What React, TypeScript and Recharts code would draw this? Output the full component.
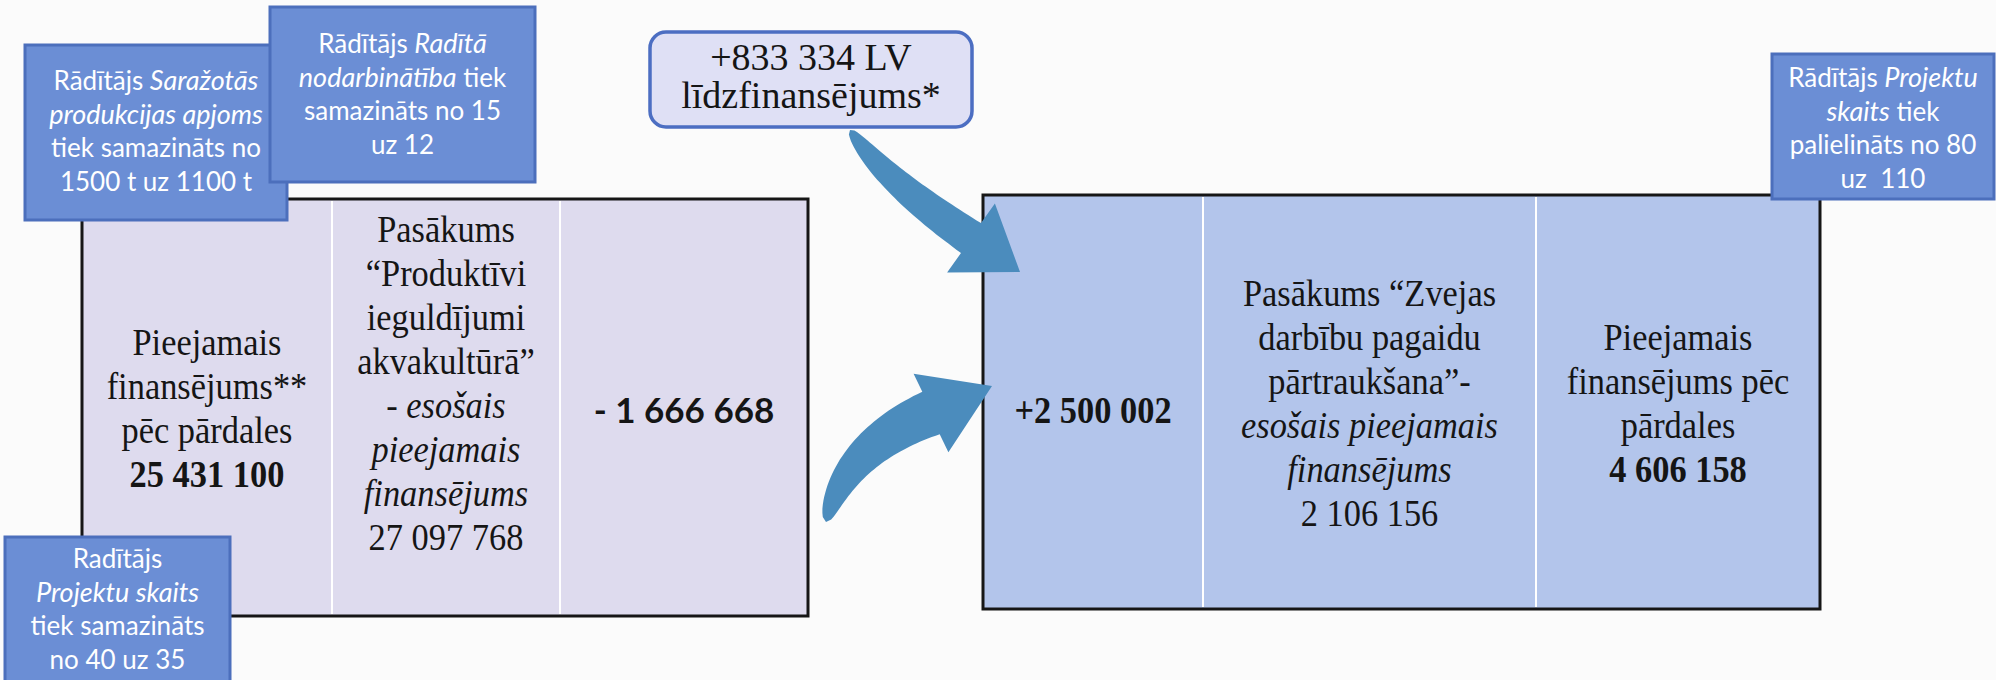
import React from 'react'
import { ComposedChart, XAxis, YAxis, ReferenceArea } from 'recharts'

type Seg = { t: string; i?: boolean; b?: boolean }
type Line = Seg[]

const W = 1996
const H = 680

// amounts, LVL
const leftAvailable = 25431100
const aquacultureCurrent = 27097768
const movedOut = -1666668
const cofinancing = 833334
const movedIn = 2500002
const fishingCurrent = 2106156
const rightAvailable = 4606158

const fmt = (n: number) => Math.abs(n).toString().replace(/\B(?=(\d{3})+(?!\d))/g, ' ')

// indicator notes
const indOutput: Line[] = [
  [{ t: 'Rādītājs ' }, { t: 'Saražotās', i: true }],
  [{ t: 'produkcijas apjoms', i: true }],
  [{ t: 'tiek samazināts no' }],
  [{ t: '1500 t uz 1100 t' }],
]
const indJobs: Line[] = [
  [{ t: 'Rādītājs ' }, { t: 'Radītā', i: true }],
  [{ t: 'nodarbinātība', i: true }, { t: ' tiek' }],
  [{ t: 'samazināts no 15' }],
  [{ t: 'uz 12' }],
]
const indProjectsDown: Line[] = [
  [{ t: 'Radītājs' }],
  [{ t: 'Projektu skaits', i: true }],
  [{ t: 'tiek samazināts' }],
  [{ t: 'no 40 uz 35' }],
]
const indProjectsUp: Line[] = [
  [{ t: 'Rādītājs ' }, { t: 'Projektu', i: true }],
  [{ t: 'skaits', i: true }, { t: ' tiek' }],
  [{ t: 'palielināts no 80' }],
  [{ t: 'uz\u00a0 110' }],
]

// table cells
const leftCells: Line[][] = [
  [[{ t: 'Pieejamais' }], [{ t: 'finansējums**' }], [{ t: 'pēc pārdales' }], [{ t: fmt(leftAvailable), b: true }]],
  [
    [{ t: 'Pasākums' }],
    [{ t: '“Produktīvi' }],
    [{ t: 'ieguldījumi' }],
    [{ t: 'akvakultūrā”' }],
    [{ t: '- ' }, { t: 'esošais', i: true }],
    [{ t: 'pieejamais', i: true }],
    [{ t: 'finansējums', i: true }],
    [{ t: fmt(aquacultureCurrent) }],
  ],
  [[{ t: '- ' + fmt(movedOut), b: true }]],
]
const rightCells: Line[][] = [
  [[{ t: '+' + fmt(movedIn), b: true }]],
  [
    [{ t: 'Pasākums “Zvejas' }],
    [{ t: 'darbību pagaidu' }],
    [{ t: 'pārtraukšana”-' }],
    [{ t: 'esošais pieejamais', i: true }],
    [{ t: 'finansējums', i: true }],
    [{ t: fmt(fishingCurrent) }],
  ],
  [[{ t: 'Pieejamais' }], [{ t: 'finansējums pēc' }], [{ t: 'pārdales' }], [{ t: fmt(rightAvailable), b: true }]],
]
const bubbleLines: Line[] = [[{ t: '+' + fmt(cofinancing) + ' LV' }], [{ t: 'līdzfinansējums*' }]]

// layout
const SERIF = "'Liberation Serif', 'Times New Roman', serif"
const SANS = "Lato, 'Open Sans', sans-serif"
const BOX_FILL = '#6b8ed5'
const BOX_EDGE = '#4c6fbc'
const ARROW = '#4b8cbd'

type Box = { x1: number; x2: number; y1: number; y2: number }
const leftTable = { x1: 82, x2: 808, y1: 199, y2: 616, cols: [332, 560], first: [355, 242, 423], sans: [false, false, true] }
const rightTable = { x1: 983, x2: 1820, y1: 195, y2: 609, cols: [1203, 1536], first: [423, 306, 350], sans: [false, false, false] }
const notes = [
  { box: { x1: 25, x2: 287, y1: 45, y2: 220 }, first: 90, lines: indOutput },
  { box: { x1: 270, x2: 535, y1: 7, y2: 182 }, first: 53, lines: indJobs },
  { box: { x1: 5, x2: 230, y1: 537, y2: 700 }, first: 568, lines: indProjectsDown },
  { box: { x1: 1772, x2: 1994, y1: 54, y2: 199 }, first: 87, lines: indProjectsUp },
]
const bubble = { x1: 650, x2: 972, y1: 32, y2: 127, first: 70, step: 38 }

type Pt = [number, number]
const arrows = [
  { box: { x1: 840, x2: 1030, y1: 120, y2: 285 }, tail: [850, 130] as Pt, ctrl: [884, 180] as Pt, base: [971, 238] as Pt, tip: [1020, 272] as Pt, shaft: 36, head: 84 },
  { box: { x1: 815, x2: 1000, y1: 365, y2: 530 }, tail: [826, 522] as Pt, ctrl: [845, 448] as Pt, base: [931, 413] as Pt, tip: [992, 386] as Pt, shaft: 46, head: 86 },
]

function mapper(p: any, box: Box) {
  const kx = p.width / (box.x2 - box.x1)
  const ky = p.height / (box.y2 - box.y1)
  return {
    X: (v: number) => p.x + (v - box.x1) * kx,
    Y: (v: number) => p.y + (v - box.y1) * ky,
    ky,
  }
}

function Lines({ x, y, step, lines, size, family, fill = '#151515', sx = 1, italic }: any) {
  return (
    <text
      textAnchor="middle"
      fontFamily={family}
      fontSize={size}
      fill={fill}
      transform={sx !== 1 ? `translate(${x},0) scale(${sx},1) translate(${-x},0)` : undefined}
    >
      {lines.map((ln: Line, k: number) => (
        <tspan key={k} x={x} y={y + k * step}>
          {ln.map((s, j) => (
            <tspan
              key={j}
              fontStyle={s.i ? 'italic' : 'normal'}
              fontWeight={s.b ? 'bold' : 'normal'}
              {...(s.i && italic ? italic : {})}
            >
              {s.t}
            </tspan>
          ))}
        </tspan>
      ))}
    </text>
  )
}

const tableShape = (tb: typeof leftTable, fill: string, cells: Line[][]) => (p: any) => {
  const { X, Y, ky } = mapper(p, tb)
  const edges = [tb.x1, ...tb.cols, tb.x2]
  return (
    <g>
      <rect x={p.x} y={p.y} width={p.width} height={p.height} fill={fill} stroke="#161616" strokeWidth={3} />
      {tb.cols.map((c) => (
        <line key={c} x1={X(c)} x2={X(c)} y1={p.y + 2} y2={p.y + p.height - 2} stroke="#ffffff" strokeWidth={2} />
      ))}
      {cells.map((cell, i) => (
        <Lines
          key={i}
          x={X((edges[i] + edges[i + 1]) / 2)}
          y={Y(tb.first[i])}
          step={44 * ky}
          lines={cell}
          size={tb.sans[i] ? 35 : 37}
          sx={tb.sans[i] ? 1 : 0.93}
          family={tb.sans[i] ? SANS : SERIF}
        />
      ))}
    </g>
  )
}

const noteShape = (n: (typeof notes)[number]) => (p: any) => {
  const { X, Y, ky } = mapper(p, n.box)
  return (
    <g>
      <rect x={p.x} y={p.y} width={p.width} height={p.height} fill={BOX_FILL} stroke={BOX_EDGE} strokeWidth={3} />
      <Lines
        x={X((n.box.x1 + n.box.x2) / 2)}
        y={Y(n.first)}
        step={33.5 * ky}
        lines={n.lines}
        size={26}
        family={SANS}
        fill="#ffffff"
        italic={{ fontSize: 27 }}
      />
    </g>
  )
}

const bubbleShape = (p: any) => {
  const { X, Y, ky } = mapper(p, bubble)
  return (
    <g>
      <rect x={p.x} y={p.y} width={p.width} height={p.height} rx={16} fill="#dfe0f5" stroke="#4c6ec2" strokeWidth={3.5} />
      <Lines x={X((bubble.x1 + bubble.x2) / 2)} y={Y(bubble.first)} step={bubble.step * ky} lines={bubbleLines} size={38} family={SERIF} />
    </g>
  )
}

const arrowShape = (a: (typeof arrows)[number]) => (p: any) => {
  const { X, Y } = mapper(p, a.box)
  const N = 40
  const left: Pt[] = []
  const right: Pt[] = []
  for (let k = 0; k <= N; k++) {
    const t = k / N
    const u = 1 - t
    const bx = u * u * a.tail[0] + 2 * u * t * a.ctrl[0] + t * t * a.base[0]
    const by = u * u * a.tail[1] + 2 * u * t * a.ctrl[1] + t * t * a.base[1]
    const dx = 2 * u * (a.ctrl[0] - a.tail[0]) + 2 * t * (a.base[0] - a.ctrl[0])
    const dy = 2 * u * (a.ctrl[1] - a.tail[1]) + 2 * t * (a.base[1] - a.ctrl[1])
    const len = Math.hypot(dx, dy) || 1
    const nx = -dy / len
    const ny = dx / len
    const w = (a.shaft / 2) * Math.pow(t, 0.45)
    left.push([bx + nx * w, by + ny * w])
    right.push([bx - nx * w, by - ny * w])
  }
  const ddx = a.tip[0] - a.base[0]
  const ddy = a.tip[1] - a.base[1]
  const dl = Math.hypot(ddx, ddy)
  const hx = (-ddy / dl) * (a.head / 2)
  const hy = (ddx / dl) * (a.head / 2)
  const pts: Pt[] = [
    ...left,
    [a.base[0] + hx, a.base[1] + hy],
    a.tip,
    [a.base[0] - hx, a.base[1] - hy],
    ...right.reverse(),
  ]
  const d = pts.map(([x, y], i) => `${i ? 'L' : 'M'}${X(x).toFixed(1)},${Y(y).toFixed(1)}`).join(' ') + ' Z'
  return <path d={d} fill={ARROW} />
}

export default function App() {
  return (
    <div style={{ position: 'absolute', left: 0, top: 0, width: W, height: H, background: '#fbfbfb', overflow: 'hidden' }}>
      <ComposedChart width={W} height={H} margin={{ top: 0, right: 0, bottom: 0, left: 0 }}>
        <XAxis type="number" dataKey="x" domain={[0, W]} hide allowDataOverflow />
        <YAxis type="number" dataKey="y" domain={[0, H]} reversed hide allowDataOverflow />
        <ReferenceArea {...leftTable} ifOverflow="visible" shape={tableShape(leftTable, '#dedbee', leftCells)} />
        <ReferenceArea {...rightTable} ifOverflow="visible" shape={tableShape(rightTable, '#b3c5eb', rightCells)} />
        {arrows.map((a, i) => (
          <ReferenceArea key={'a' + i} {...a.box} ifOverflow="visible" shape={arrowShape(a)} />
        ))}
        <ReferenceArea {...bubble} ifOverflow="visible" shape={bubbleShape} />
        {notes.map((n, i) => (
          <ReferenceArea key={'n' + i} {...n.box} ifOverflow="visible" shape={noteShape(n)} />
        ))}
      </ComposedChart>
    </div>
  )
}
